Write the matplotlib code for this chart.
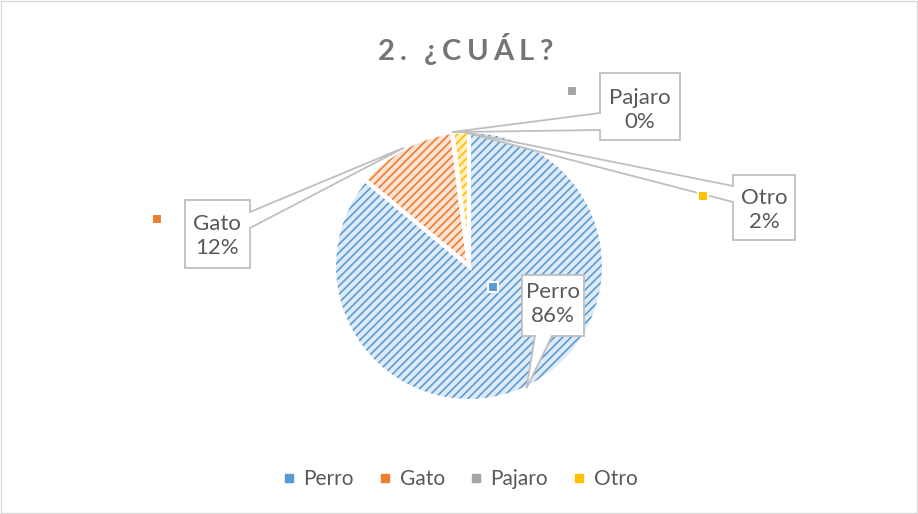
import matplotlib.pyplot as plt
from matplotlib.lines import Line2D
from matplotlib.patches import Polygon, Rectangle
import numpy as np

categories = ['Perro', 'Gato', 'Pajaro', 'Otro']
values = [86, 12, 0, 2]
dark = ['#5B9BD5', '#ED7D31', '#A5A5A5', '#FFC000']
light = ['#DEEAF6', '#FBE3D3', '#E8E8E8', '#FFEFC0']
title = '2. ¿CUÁL?'

plt.rcParams['font.family'] = ['Lato', 'DejaVu Sans']
plt.rcParams['hatch.linewidth'] = 1.2
txt = '#595959'

W, H = 918, 514
fig = plt.figure(figsize=(W / 100, H / 100), dpi=100)
ax = fig.add_axes([0, 0, 1, 1])

cx, cy, R = 469, H - 266, 135
kw = dict(startangle=90, counterclock=False, center=(cx, cy), radius=R)
ax.pie(values, colors=light, wedgeprops=dict(linewidth=0), **kw)
w2, _ = ax.pie(values, colors=['none'] * 4, wedgeprops=dict(linewidth=0), **kw)
for w, c in zip(w2, dark):
    w.set_hatch('////')
    w.set_edgecolor(c)
ax.pie(values, colors=['none'] * 4, wedgeprops=dict(linewidth=3, edgecolor='white'), **kw)

# callout apex on each wedge mid-angle
tot = sum(values)
ang = 90.0
apex = []
for v in values:
    span = 360.0 * v / tot
    mid = np.deg2rad(ang - span / 2)
    apex.append((cx + R * np.cos(mid), cy + R * np.sin(mid)))
    ang -= span

# label boxes: (x0, y0, x1, y1) in pixels from top, notch side, notch range, text center, key position
boxes = {
    'Perro': ((522, 275, 584, 336), 'bottom', (535, 552), (553, 304), (493, 287)),
    'Gato': ((185, 200, 250, 268), 'right', (212, 228), (217, 236), (157, 219)),
    'Pajaro': ((600, 73, 680, 140), 'left', (113, 130), (640, 110), (572, 91)),
    'Otro': ((733, 175, 795, 240), 'left', (186, 202), (764, 210), (703, 196)),
}

for i, name in enumerate(categories):
    (x0, y0, x1, y1), side, (a, b), (tx, ty), (kx, ky) = boxes[name]
    px, py = apex[i]
    if side == 'right':
        pts = [(x0, y0), (x1, y0), (x1, a), None, (x1, b), (x1, y1), (x0, y1)]
    elif side == 'left':
        pts = [(x0, y0), (x1, y0), (x1, y1), (x0, y1), (x0, b), None, (x0, a)]
    else:
        pts = [(x0, y0), (x1, y0), (x1, y1), (b, y1), None, (a, y1), (x0, y1)]
    pts = [(px, py) if p is None else (p[0], H - p[1]) for p in pts]
    ax.add_patch(Polygon(pts, closed=True, facecolor='white', edgecolor='#BFBFBF',
                         linewidth=1.3, zorder=5))
    pct = round(100 * values[i] / tot)
    ax.text(tx, H - ty, f'{name}\n{pct}%', ha='center', va='center', fontsize=16,
            color=txt, linespacing=1.25, zorder=6)
    ax.add_patch(Rectangle((kx - 5, H - ky - 5), 10, 10, facecolor=dark[i],
                           edgecolor='white', linewidth=1.5, zorder=6))

# title with letter spacing, one glyph at a time
r = fig.canvas.get_renderer()
parts = [ax.text(0, H - 52, ch, ha='left', va='center', fontsize=21, fontweight='bold',
                 color='#757575') for ch in title]
widths = [t.get_window_extent(r).width if ch != ' ' else 7 for t, ch in zip(parts, title)]
track = 5
total = sum(widths) + track * (len(title) - 1)
x = 465 - total / 2
for t, wdt in zip(parts, widths):
    t.set_x(x)
    x += wdt + track

handles = [Line2D([], [], marker='s', linestyle='none', markersize=6,
                  markerfacecolor=c, markeredgecolor=c) for c in dark]
ax.legend(handles, categories, loc='center', bbox_to_anchor=(0.5, 1 - 479 / H),
          ncol=4, frameon=False, fontsize=15, labelcolor=txt, handlelength=0.8,
          handletextpad=0.3, columnspacing=1.1)

ax.add_patch(Rectangle((1, 1), W - 2, H - 2, fill=False, edgecolor='#D9D9D9', linewidth=1))
ax.set_xlim(0, W)
ax.set_ylim(0, H)
ax.set_aspect('equal')
ax.axis('off')

fig.savefig('out.png', dpi=100)
